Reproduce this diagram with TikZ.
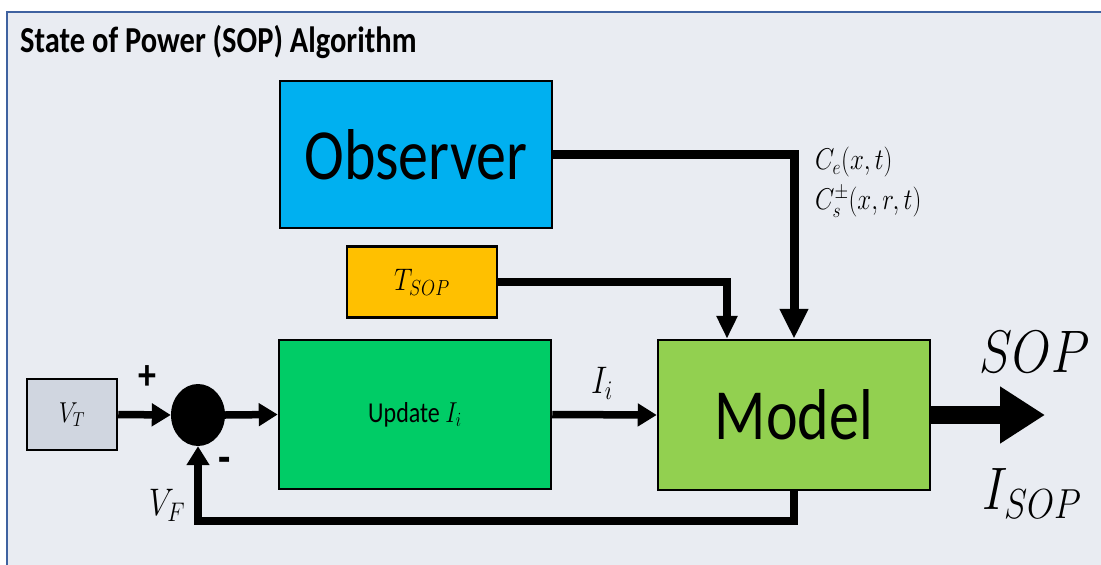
\RequirePackage{fix-cm}
\documentclass[tikz,border=0pt]{standalone}
\usepackage{fontspec}
\newfontfamily\carlito{Carlito}
\usetikzlibrary{arrows.meta,shapes.geometric}
\definecolor{panel}{HTML}{E9ECF2}
\definecolor{frameblue}{HTML}{3F62A0}
\definecolor{obsfill}{HTML}{00B0F0}
\definecolor{tsopfill}{HTML}{FFC000}
\definecolor{updfill}{HTML}{00CC66}
\definecolor{mdlfill}{HTML}{92D050}
\definecolor{vtfill}{HTML}{D0D6E0}
\newcommand{\vs}[1]{\scalebox{1}[1.2]{#1}}
\newcommand{\fs}[1]{\fontsize{#1}{#1}\selectfont}
\begin{document}
\begin{tikzpicture}[x=1pt,y=-1pt,
  blk/.style={draw=black, line width=2.5pt, inner sep=0pt},
  conn/.style={line width=7.5pt, -{Triangle[length=19pt,width=22pt]}},
  lbl/.style={inner sep=0pt}]
\useasboundingbox (0,0) rectangle (1101,565);
\fill[panel] (7,12) rectangle (1101,565);
\draw[frameblue, line width=2pt] (7,565) -- (7,12) -- (1101,12);
\node[lbl, anchor=base west] (title) at (20,52) {\carlito\bfseries\fs{30.5}\vs{State of Power (SOP) Algorithm}};

\node[blk, fill=obsfill, minimum width=272pt, minimum height=147pt] (obs) at (416,154.5) {\carlito\fs{60}\vs{Observer}};
\node[blk, fill=tsopfill, minimum width=150pt, minimum height=71pt] (tsop) at (422,282) {\fs{26}\vs{$T_{SOP}$}};
\node[blk, fill=vtfill, minimum width=90pt, minimum height=71pt] (vt) at (72,414.5) {\fs{24}\vs{$V_T$}};
\node[ellipse, fill=black, minimum width=54pt, minimum height=62pt, inner sep=0pt] (sum) at (198,415) {};
\node[blk, fill=updfill, minimum width=272pt, minimum height=149pt] (upd) at (415,414.5) {\carlito\fs{24}\vs{Update $I_i$}};
\node[blk, fill=mdlfill, minimum width=272pt, minimum height=150pt] (mdl) at (794,415) {\carlito\fs{60}\vs{Model}};

\coordinate (tin) at (727,0);
\coordinate (fby) at (0,521);
\coordinate (outtip) at (1045,415);

\draw[conn] (vt.east) -- (sum.west);
\draw[conn] (sum.east) -- (upd.west);
\draw[conn] (upd.east) -- (mdl.west);
\draw[line width=9pt, -{Triangle[length=30pt,width=27pt]}] (obs.east) -| (mdl.north);
\draw[conn, -{Triangle[length=23pt,width=20pt]}] (tsop.east) -| (tin |- mdl.north);
\draw[conn] (mdl.south) |- (sum.south |- fby) -- (sum.south);
\draw[line width=18pt, -{Triangle[length=45pt,width=54pt]}] (mdl.east) -- (outtip);

\node[lbl] (plus) at (147,378) {\carlito\bfseries\fs{36}\vs{+}};
\node[lbl] (minus) at (225,465) {\carlito\bfseries\fs{40}\vs{-}};
\node[lbl] (vf) at (167,505) {\fs{32}\vs{$V_F$}};
\node[lbl] (ii) at (602,383) {\fs{32}\vs{$I_i$}};
\node[lbl, anchor=west] (ce) at (815,162) {\fs{25}\vs{$C_e(x,t)$}};
\node[lbl, anchor=west] (cs) at (815,202) {\fs{25}\vs{$C_s^{\pm}(x,r,t)$}};
\node[lbl] (sop) at (1035,352) {\fs{50}\vs{$SOP$}};
\node[lbl] (isop) at (1032,493) {\fs{50}\vs{$I_{SOP}$}};
\end{tikzpicture}
\end{document}
